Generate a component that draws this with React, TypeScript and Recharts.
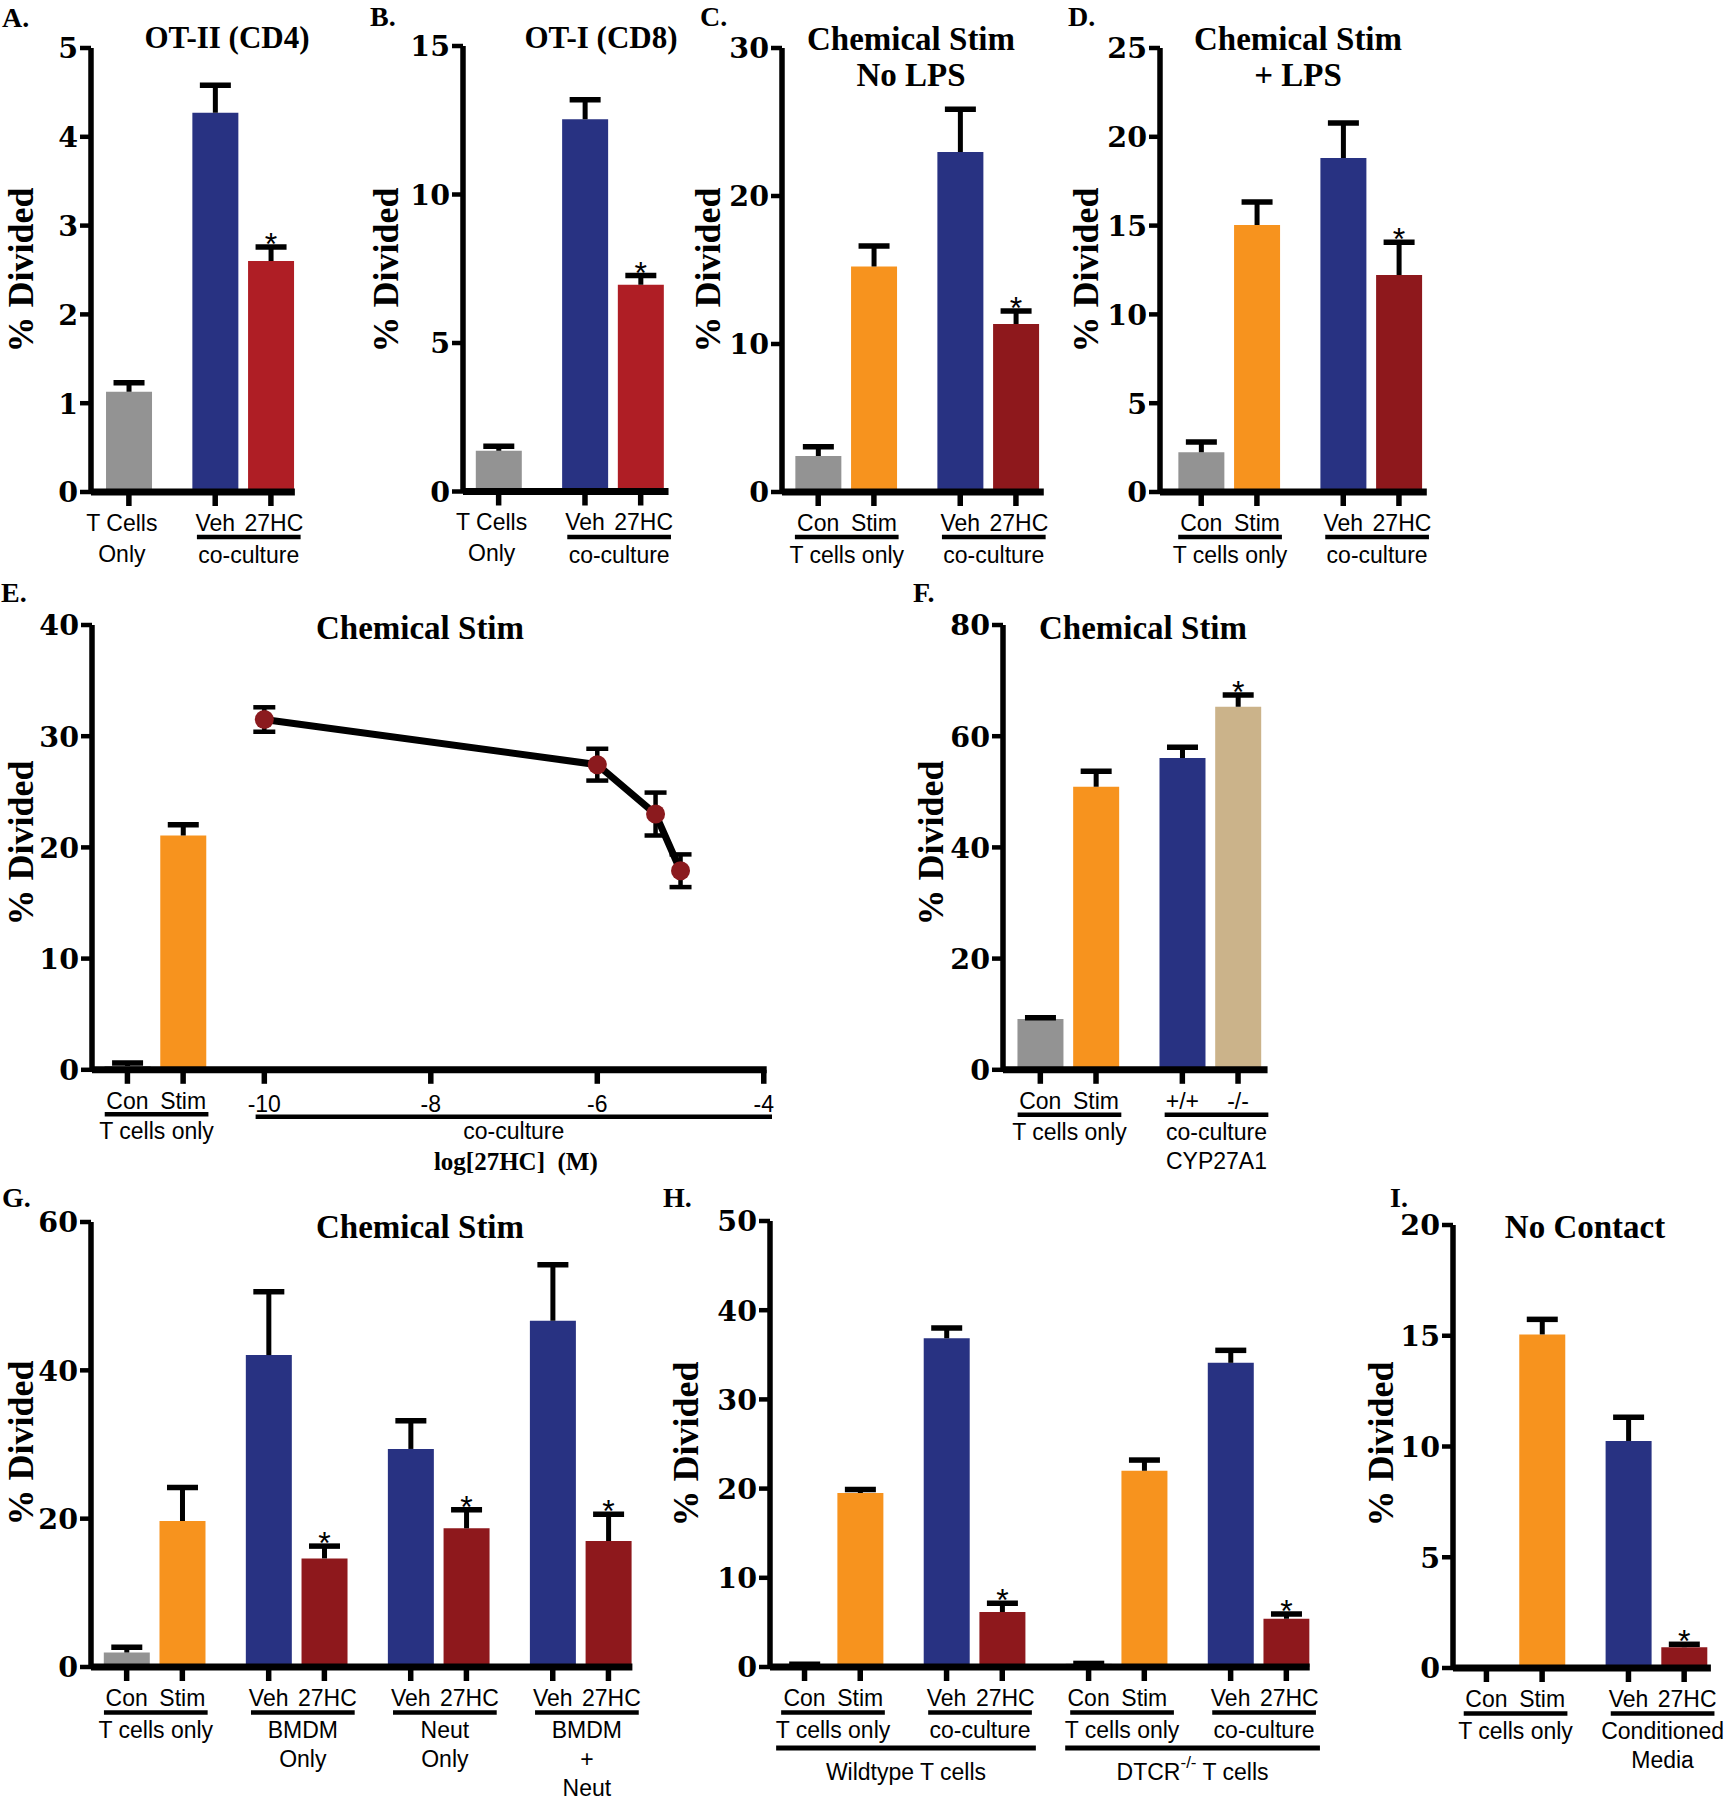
import React from 'react';
import { BarChart, Bar, XAxis, YAxis, Cell, LineChart, Line, ErrorBar } from 'recharts';

// ---------------- data ----------------
const A_LABELS = ['T Cells\nOnly', 'Veh', '27HC'];
const A_VALUES = [1.13, 4.27, 2.6];
const A_ERRORS = [0.1, 0.31, 0.16];
const A_STARS = [false, false, true];
const A_GROUP_SIZES = [1, 2];
const A_GROUP_LABELS = [[], ['co-culture']];
const A_Y_TICKS = [0, 1, 2, 3, 4, 5];

const B_LABELS = ['T Cells\nOnly', 'Veh', '27HC'];
const B_VALUES = [1.37, 12.53, 6.96];
const B_ERRORS = [0.15, 0.66, 0.31];
const B_STARS = [false, false, true];
const B_GROUP_SIZES = [1, 2];
const B_GROUP_LABELS = [[], ['co-culture']];
const B_Y_TICKS = [0, 5, 10, 15];

const C_LABELS = ['Con', 'Stim', 'Veh', '27HC'];
const C_VALUES = [2.43, 15.24, 22.98, 11.35];
const C_ERRORS = [0.63, 1.38, 2.88, 0.88];
const C_STARS = [false, false, false, true];
const C_GROUP_SIZES = [2, 2];
const C_GROUP_LABELS = [['T cells only'], ['co-culture']];
const C_Y_TICKS = [0, 10, 20, 30];

const D_LABELS = ['Con', 'Stim', 'Veh', '27HC'];
const D_VALUES = [2.24, 15.04, 18.8, 12.22];
const D_ERRORS = [0.58, 1.29, 1.98, 1.84];
const D_STARS = [false, false, false, true];
const D_GROUP_SIZES = [2, 2];
const D_GROUP_LABELS = [['T cells only'], ['co-culture']];
const D_Y_TICKS = [0, 5, 10, 15, 20, 25];

const E_BAR_LABELS = ['Con', 'Stim'];
const E_BAR_VALUES = [0.34, 21.07];
const E_BAR_ERRORS = [0.28, 0.96];
const E_LOG_CONC = [-10, -6, -5.3, -5];
const E_LINE_VALUES = [31.5, 27.44, 23.0, 17.9];
const E_LINE_ERRORS = [1.1, 1.43, 1.93, 1.47];
const E_LOG_TICKS = [-10, -8, -6, -4];
const E_Y_TICKS = [0, 10, 20, 30, 40];

const F_LABELS = ['Con', 'Stim', '+/+', '-/-'];
const F_VALUES = [9.14, 50.9, 56.1, 65.3];
const F_ERRORS = [0.21, 2.8, 1.9, 2.1];
const F_STARS = [false, false, false, true];
const F_GROUP_SIZES = [2, 2];
const F_GROUP_LABELS = [['T cells only'], ['co-culture', 'CYP27A1']];
const F_Y_TICKS = [0, 20, 40, 60, 80];

const G_LABELS = ['Con', 'Stim', 'Veh', '27HC', 'Veh', '27HC', 'Veh', '27HC'];
const G_VALUES = [1.97, 19.7, 42.06, 14.64, 29.4, 18.7, 46.7, 17.0];
const G_ERRORS = [0.69, 4.5, 8.54, 1.66, 3.8, 2.5, 7.55, 3.6];
const G_STARS = [false, false, false, true, false, true, false, true];
const G_GROUP_SIZES = [2, 2, 2, 2];
const G_GROUP_LABELS = [['T cells only'], ['BMDM', 'Only'], ['Neut', 'Only'], ['BMDM', '+', 'Neut']];
const G_Y_TICKS = [0, 20, 40, 60];

const H_LABELS = ['Con', 'Stim', 'Veh', '27HC', 'Con', 'Stim', 'Veh', '27HC'];
const H_VALUES = [0.25, 19.5, 36.85, 6.16, 0.35, 22.0, 34.1, 5.4];
const H_ERRORS = [0.05, 0.4, 1.15, 1.0, 0.05, 1.2, 1.4, 0.53];
const H_STARS = [false, false, false, true, false, false, false, true];
const H_GROUP_SIZES = [2, 2, 2, 2];
const H_GROUP_LABELS = [['T cells only'], ['co-culture'], ['T cells only'], ['co-culture']];
const H_SUPER_GROUPS = [[0, 1], [2, 3]];
const H_Y_TICKS = [0, 10, 20, 30, 40, 50];

const I_LABELS = ['Con', 'Stim', 'Veh', '27HC'];
const I_VALUES = [0.05, 15.06, 10.25, 0.94];
const I_ERRORS = [0, 0.68, 1.07, 0.13];
const I_STARS = [false, false, false, true];
const I_GROUP_SIZES = [2, 2];
const I_GROUP_LABELS = [['T cells only'], ['Conditioned', 'Media']];
const I_Y_TICKS = [0, 5, 10, 15, 20];

// ---------------- style / layout ----------------
const U = 55.7;
const JUMP = 1.55;
const BAR_W = 46;
const YW = 70, MT = 20, MR = 12, XH = 85;
const SERIF = "'Liberation Serif', 'Times New Roman', serif";
const DIGIT_SERIF = "'DejaVu Serif', 'Liberation Serif', serif";
const SANS = "'Liberation Sans', Arial, sans-serif";
const COLORS = {
  gray: '#939393', orange: '#F7931E', blue: '#283282', red: '#AF1E25', darkRed: '#8E181C', tan: '#CBB38A',
};

function barColor(label: string, redTone: string) {
  if (label.startsWith('T Cells') || label === 'Con') return COLORS.gray;
  if (label === 'Stim') return COLORS.orange;
  if (label === 'Veh' || label === '+/+') return COLORS.blue;
  if (label === '-/-') return COLORS.tan;
  return redTone;
}

function slotPositions(sizes: number[]) {
  const out: number[] = [];
  let x = 0;
  sizes.forEach((n) => {
    for (let i = 0; i < n; i++) {
      if (out.length > 0) x += i === 0 ? JUMP : 1;
      out.push(x);
    }
  });
  return out;
}

type Spec = {
  id: string; labels: string[]; values: number[]; errors: number[]; stars: boolean[];
  groupSizes: number[]; groupLabels: string[][]; yTicks: number[];
  axisX: number; top: number; zero: number; padL: number; padR: number; red: string;
};

const SPECS: Spec[] = [
  { id: 'A', labels: A_LABELS, values: A_VALUES, errors: A_ERRORS, stars: A_STARS, groupSizes: A_GROUP_SIZES, groupLabels: A_GROUP_LABELS, yTicks: A_Y_TICKS, axisX: 90.7, top: 47.5, zero: 491.5, padL: 0.68, padR: 0.43, red: COLORS.red },
  { id: 'B', labels: B_LABELS, values: B_VALUES, errors: B_ERRORS, stars: B_STARS, groupSizes: B_GROUP_SIZES, groupLabels: B_GROUP_LABELS, yTicks: B_Y_TICKS, axisX: 463.3, top: 46, zero: 491.5, padL: 0.64, padR: 0.5, red: COLORS.red },
  { id: 'C', labels: C_LABELS, values: C_VALUES, errors: C_ERRORS, stars: C_STARS, groupSizes: C_GROUP_SIZES, groupLabels: C_GROUP_LABELS, yTicks: C_Y_TICKS, axisX: 781.7, top: 47.5, zero: 491.5, padL: 0.65, padR: 0.5, red: COLORS.darkRed },
  { id: 'D', labels: D_LABELS, values: D_VALUES, errors: D_ERRORS, stars: D_STARS, groupSizes: D_GROUP_SIZES, groupLabels: D_GROUP_LABELS, yTicks: D_Y_TICKS, axisX: 1160, top: 47.5, zero: 491.5, padL: 0.74, padR: 0.5, red: COLORS.darkRed },
  { id: 'F', labels: F_LABELS, values: F_VALUES, errors: F_ERRORS, stars: F_STARS, groupSizes: F_GROUP_SIZES, groupLabels: F_GROUP_LABELS, yTicks: F_Y_TICKS, axisX: 1003.3, top: 624.5, zero: 1069.3, padL: 0.67, padR: 0.53, red: COLORS.darkRed },
  { id: 'G', labels: G_LABELS, values: G_VALUES, errors: G_ERRORS, stars: G_STARS, groupSizes: G_GROUP_SIZES, groupLabels: G_GROUP_LABELS, yTicks: G_Y_TICKS, axisX: 91.3, top: 1222, zero: 1667, padL: 0.64, padR: 0.43, red: COLORS.darkRed },
  { id: 'H', labels: H_LABELS, values: H_VALUES, errors: H_ERRORS, stars: H_STARS, groupSizes: H_GROUP_SIZES, groupLabels: H_GROUP_LABELS, yTicks: H_Y_TICKS, axisX: 769.6, top: 1221, zero: 1667, padL: 0.62, padR: 0.42, red: COLORS.darkRed },
  { id: 'I', labels: I_LABELS, values: I_VALUES, errors: I_ERRORS, stars: I_STARS, groupSizes: I_GROUP_SIZES, groupLabels: I_GROUP_LABELS, yTicks: I_Y_TICKS, axisX: 1453.3, top: 1225, zero: 1668, padL: 0.6, padR: 0.48, red: COLORS.darkRed },
];

type Geo = {
  axisX: number; top: number; zero: number; domain: [number, number]; plotW: number;
  barPos: number[]; ticks: number[]; tickLabels: string[];
};

function regularGeo(s: Spec): Geo {
  const barPos = slotPositions(s.groupSizes);
  const domain: [number, number] = [-s.padL, barPos[barPos.length - 1] + s.padR];
  return { axisX: s.axisX, top: s.top, zero: s.zero, domain, plotW: (domain[1] - domain[0]) * U, barPos, ticks: barPos, tickLabels: s.labels };
}

const E_DOMAIN: [number, number] = [-12.07, -3.965];
const E_PLOT_W = 674.7;
const E_PX = E_PLOT_W / (E_DOMAIN[1] - E_DOMAIN[0]);
const E_BAR_POS = E_BAR_LABELS.map((_, i) => E_DOMAIN[0] + ((0.636 + i) * U) / E_PX);
const E_GEO: Geo = {
  axisX: 92.3, top: 624.5, zero: 1069.3, domain: E_DOMAIN, plotW: E_PLOT_W,
  barPos: E_BAR_POS, ticks: [...E_BAR_POS, ...E_LOG_TICKS],
  tickLabels: [...E_BAR_LABELS, ...E_LOG_TICKS.map((t) => String(t))],
};

const toPx = (g: Geo, v: number) => g.axisX + ((v - g.domain[0]) / (g.domain[1] - g.domain[0])) * g.plotW;

// ---------------- components ----------------
function XTick(props: any) {
  const { x, y, payload, ticks, labels } = props;
  const i = ticks.findIndex((t: number) => Math.abs(t - payload.value) < 1e-6);
  const label: string = i >= 0 ? labels[i] : '';
  const lines = label.split('\n');
  let dx = 0;
  let extra = 0;
  if (label === '27HC') dx = 3;
  if (label.startsWith('T Cells')) dx = -7;
  if (/^-\d/.test(label)) extra = 3;
  return (
    <g>
      {lines.map((t, k) => (
        <text key={k} x={x + dx} y={y + 25 + extra + k * 31} textAnchor="middle" fontFamily={SANS} fontSize={23} fill="#000">{t}</text>
      ))}
    </g>
  );
}

function YTick(props: any) {
  const { x, y, payload } = props;
  return (
    <text x={x} y={y} dy={10.5} textAnchor="end" fontFamily={DIGIT_SERIF} fontWeight="bold" fontSize={28.5} fill="#000">{payload.value}</text>
  );
}

function ErrShape(props: any) {
  const { x, y, width, height, payload } = props;
  if (!payload || !payload.err || payload.err <= 0) return <g />;
  const cx = x + width / 2;
  return (
    <g>
      <line x1={cx} x2={cx} y1={y + height} y2={y} stroke="#000" strokeWidth={5} />
      <line x1={cx - 15.5} x2={cx + 15.5} y1={y} y2={y} stroke="#000" strokeWidth={5.5} />
      {payload.star ? (
        <text x={cx} y={y + 8} textAnchor="middle" fontFamily={SANS} fontSize={32} fill="#000">*</text>
      ) : null}
    </g>
  );
}

function BarPanel({ geo, values, errors, stars, yTicks, colors }: { geo: Geo; values: number[]; errors: number[]; stars: boolean[]; yTicks: number[]; colors: string[] }) {
  const plotH = geo.zero - geo.top;
  const rows = values.map((v, i) => ({ x: geo.barPos[i], value: v, err: errors[i], star: stars[i] }));
  const yMax = yTicks[yTicks.length - 1];
  return (
    <div style={{ position: 'absolute', left: geo.axisX - YW, top: geo.top - MT }}>
      <BarChart width={YW + geo.plotW + MR} height={MT + plotH + XH} data={rows} margin={{ top: MT, right: MR, left: 0, bottom: 0 }} barGap={0}>
        <Bar dataKey="value" stackId="s" barSize={BAR_W} isAnimationActive={false}>
          {rows.map((_, i) => <Cell key={i} fill={colors[i]} />)}
        </Bar>
        <Bar dataKey="err" stackId="s" barSize={BAR_W} isAnimationActive={false} fill="none" shape={(p: any) => <ErrShape {...p} />} />
        <XAxis
          type="number" dataKey="x" domain={geo.domain} ticks={geo.ticks} interval={0} allowDataOverflow height={XH}
          stroke="#000" strokeWidth={7}
          axisLine={{ stroke: '#000', strokeWidth: 7 }} tickLine={{ stroke: '#000', strokeWidth: 5.5 }} tickSize={14} tickMargin={0}
          tick={(p: any) => <XTick {...p} ticks={geo.ticks} labels={geo.tickLabels} />}
        />
        <YAxis
          type="number" domain={[0, yMax]} ticks={yTicks} interval={0} allowDataOverflow width={YW}
          stroke="#000" strokeWidth={5.5}
          axisLine={{ stroke: '#000', strokeWidth: 5.5 }} tickLine={{ stroke: '#000', strokeWidth: 4.5 }} tickSize={11} tickMargin={2}
          tick={(p: any) => <YTick {...p} />}
        />
      </BarChart>
    </div>
  );
}

function ELine() {
  const g = E_GEO;
  const plotH = g.zero - g.top;
  const rows = E_LOG_CONC.map((x, i) => ({ x, mean: E_LINE_VALUES[i], err: E_LINE_ERRORS[i] }));
  return (
    <div style={{ position: 'absolute', left: g.axisX - YW, top: g.top - MT }}>
      <LineChart width={YW + g.plotW + MR} height={MT + plotH + XH} data={rows} margin={{ top: MT, right: MR, left: YW, bottom: XH }}>
        <XAxis type="number" dataKey="x" domain={g.domain} allowDataOverflow hide />
        <YAxis type="number" domain={[0, 40]} allowDataOverflow hide />
        <Line
          dataKey="mean" stroke="#000" strokeWidth={7} isAnimationActive={false}
          dot={(p: any) => <circle key={p.index} cx={p.cx} cy={p.cy} r={9.5} fill="#8B1A1E" stroke="none" />}
        >
          <ErrorBar dataKey="err" width={11} strokeWidth={4.5} stroke="#000" direction="y" isAnimationActive={false} />
        </Line>
      </LineChart>
    </div>
  );
}

// ---------------- annotations ----------------
const LETTERS = [
  ['A.', 2, 27], ['B.', 370, 26], ['C.', 700, 26], ['D.', 1068, 26],
  ['E.', 1, 602], ['F.', 913, 602], ['G.', 2, 1207], ['H.', 663, 1207], ['I.', 1390, 1207],
] as const;
const TITLES = [
  ['OT-II (CD4)', 227, 48, 31], ['OT-I (CD8)', 601, 48, 31],
  ['Chemical Stim', 911, 50, 33], ['No LPS', 911, 86, 33],
  ['Chemical Stim', 1298, 50, 33], ['+ LPS', 1298, 86, 33],
  ['Chemical Stim', 420, 639, 33], ['Chemical Stim', 1143, 639, 33],
  ['Chemical Stim', 420, 1238, 33], ['No Contact', 1585, 1238, 33],
] as const;
const Y_LABELS = [[21, 270], [386, 270], [708, 270], [1086, 270], [21, 843], [931, 843], [21, 1443], [686, 1444], [1381, 1444]] as const;

function groupExtents(g: Geo, sizes: number[]) {
  const out: [number, number][] = [];
  let k = 0;
  sizes.forEach((n, gi) => {
    const shift = gi === 0 ? 0 : 5;
    const x1 = toPx(g, g.barPos[k]) - BAR_W / 2 + shift;
    const x2 = toPx(g, g.barPos[k + n - 1]) + BAR_W / 2 + 2 + shift;
    out.push([x1, x2]);
    k += n;
  });
  return out;
}

function Overlay() {
  const els: React.ReactNode[] = [];
  let key = 0;
  const line = (x1: number, x2: number, y: number, w = 4.5) =>
    els.push(<line key={key++} x1={x1} x2={x2} y1={y} y2={y} stroke="#000" strokeWidth={w} />);
  const sans = (t: React.ReactNode, x: number, y: number) =>
    els.push(<text key={key++} x={x} y={y} textAnchor="middle" fontFamily={SANS} fontSize={23} fill="#000">{t}</text>);

  SPECS.forEach((s) => {
    const g = regularGeo(s);
    const ext = groupExtents(g, s.groupSizes);
    s.groupLabels.forEach((lbls, gi) => {
      if (!lbls.length) return;
      const [x1, x2] = ext[gi];
      line(x1, x2, s.zero + 45.5);
      lbls.forEach((t, k) => sans(t, (x1 + x2) / 2, s.zero + 71 + k * 29));
    });
    if (s.id === 'H') {
      H_SUPER_GROUPS.forEach(([a, b], si) => {
        const x1 = ext[a][0] - 5;
        const x2 = ext[b][1] + 4;
        line(x1, x2, s.zero + 81, 5);
        const cx = (x1 + x2) / 2;
        if (si === 0) sans('Wildtype T cells', cx, s.zero + 113);
        else sans(<>{'DTCR'}<tspan dy={-12} fontSize={17}>{'-/-'}</tspan><tspan dy={12}>{' T cells'}</tspan></>, cx, s.zero + 113);
      });
    }
  });

  // E brackets
  {
    const g = E_GEO;
    const x1 = toPx(g, g.barPos[0]) - BAR_W / 2;
    const x2 = toPx(g, g.barPos[1]) + BAR_W / 2 + 2;
    line(x1, x2, g.zero + 45);
    sans('T cells only', (x1 + x2) / 2, g.zero + 70);
    const c1 = toPx(g, -10) - 9;
    const c2 = toPx(g, g.domain[1]) + 5;
    line(c1, c2, g.zero + 47.5);
    sans('co-culture', (c1 + c2) / 2, g.zero + 70);
    els.push(
      <text key={key++} x={(c1 + c2) / 2 + 2} y={g.zero + 101} textAnchor="middle" fontFamily={SERIF} fontWeight="bold" fontSize={25} fill="#000">
        {'log[27HC]\u00A0\u00A0(M)'}
      </text>
    );
  }

  return (
    <svg width={1728} height={1800} style={{ position: 'absolute', left: 0, top: 0, pointerEvents: 'none' }}>
      {LETTERS.map(([t, x, y], i) => (
        <text key={'l' + i} x={x} y={y} fontFamily={SERIF} fontWeight="bold" fontSize={28} fill="#000">{t}</text>
      ))}
      {TITLES.map(([t, x, y, fs], i) => (
        <text key={'t' + i} x={x} y={y} textAnchor="middle" fontFamily={SERIF} fontWeight="bold" fontSize={fs} fill="#000">{t}</text>
      ))}
      {Y_LABELS.map(([x, y], i) => (
        <text key={'y' + i} x={x} y={y} dy="0.33em" textAnchor="middle" transform={`rotate(-90 ${x} ${y})`} fontFamily={SERIF} fontWeight="bold" fontSize={36} fill="#000">% Divided</text>
      ))}
      {els}
    </svg>
  );
}

export default function App() {
  return (
    <div style={{ position: 'absolute', left: 0, top: 0, width: 1728, height: 1800, background: '#fff', overflow: 'hidden' }}>
      {SPECS.map((s) => {
        const g = regularGeo(s);
        return (
          <BarPanel key={s.id} geo={g} values={s.values} errors={s.errors} stars={s.stars} yTicks={s.yTicks}
            colors={s.labels.map((l) => barColor(l, s.red))} />
        );
      })}
      <BarPanel geo={E_GEO} values={E_BAR_VALUES} errors={E_BAR_ERRORS} stars={[false, false]} yTicks={E_Y_TICKS}
        colors={E_BAR_LABELS.map((l) => barColor(l, COLORS.darkRed))} />
      <ELine />
      <Overlay />
    </div>
  );
}
